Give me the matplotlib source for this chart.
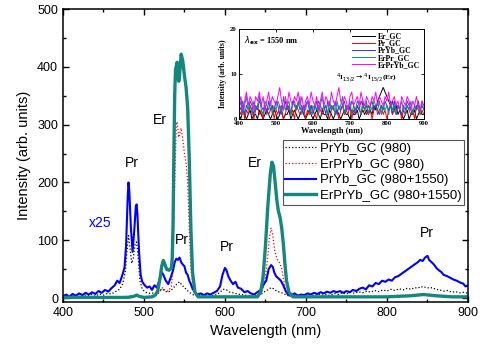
import numpy as np
import matplotlib.pyplot as plt
from matplotlib.ticker import MultipleLocator

# ----------------------------
# Main spectra
# ----------------------------
blue_wl = [400, 404, 408, 412, 416, 420, 424, 428, 432, 436, 440, 444, 448, 452, 456, 460,
           464, 467, 470, 473, 476, 478, 480, 481, 482, 484, 486, 488, 490, 491, 492, 494,
           496, 498, 501, 504, 507, 510, 513, 516, 519, 522, 524, 527, 530, 533, 536, 538,
           540, 542, 544, 546, 548, 550, 552, 554, 556, 558, 560, 563, 566, 570, 574, 578,
           582, 586, 590, 594, 597, 600, 602, 604, 607, 610, 613, 616, 620, 624, 628, 632,
           636, 640, 644, 648, 651, 654, 657, 659, 661, 663, 666, 669, 672, 675, 678, 682,
           686, 690, 694, 698, 702, 706, 710, 714, 718, 722, 726, 730, 734, 738, 742, 746,
           750, 754, 758, 762, 766, 770, 774, 778, 782, 786, 790, 794, 798, 802, 806, 810,
           814, 818, 822, 826, 830, 834, 838, 841, 844, 847, 850, 852, 855, 858, 861, 864,
           867, 870, 874, 878, 882, 886, 890, 894, 897, 900]
blue_I = [3, 6, 2, 7, 4, 8, 5, 9, 6, 10, 7, 12, 9, 14, 11, 17,
          22, 30, 26, 38, 52, 90, 175, 200, 185, 120, 80, 115, 158, 162, 145, 80,
          40, 28, 22, 18, 20, 14, 22, 18, 30, 45, 40, 30, 24, 35, 48, 62,
          68, 66, 70, 62, 58, 55, 44, 40, 30, 24, 16, 10, 6, 8, 5, 8,
          6, 9, 12, 20, 40, 52, 48, 38, 30, 24, 28, 18, 16, 10, 12, 8,
          6, 10, 14, 24, 30, 50, 57, 54, 44, 38, 34, 30, 22, 12, 6, 5,
          8, 4, 6, 5, 8, 6, 9, 7, 10, 8, 11, 9, 12, 10, 12, 9,
          12, 10, 14, 12, 16, 18, 15, 22, 20, 26, 24, 30, 28, 32, 30, 36,
          38, 42, 46, 50, 54, 58, 62, 66, 64, 70, 73, 66, 62, 58, 52, 48,
          45, 40, 38, 35, 32, 30, 27, 25, 20, 22]

black_wl = [400, 405, 410, 415, 420, 425, 430, 435, 440, 445, 450, 455, 460, 466, 470, 474,
            477, 479, 481, 483, 485, 487, 489, 491, 493, 495, 498, 502, 506, 510, 514, 518,
            522, 526, 530, 534, 538, 541, 544, 547, 550, 553, 556, 560, 565, 570, 575, 580,
            585, 590, 594, 598, 602, 606, 610, 615, 620, 625, 630, 635, 640, 645, 650, 654,
            657, 660, 664, 668, 672, 676, 680, 685, 690, 695, 700, 705, 710, 715, 720, 725,
            730, 735, 740, 745, 750, 755, 760, 765, 770, 775, 780, 785, 790, 795, 800, 805,
            810, 815, 820, 825, 830, 834, 838, 842, 845, 848, 852, 856, 860, 865, 870, 875,
            880, 885, 890, 895, 900]
black_I = [3, 5, 2, 5, 3, 6, 4, 6, 3, 7, 5, 8, 7, 12, 15, 25,
           45, 80, 108, 85, 60, 70, 92, 97, 70, 30, 15, 10, 8, 9, 7, 10,
           16, 12, 10, 14, 20, 25, 28, 22, 18, 14, 10, 6, 4, 5, 3, 5,
           4, 6, 10, 15, 14, 10, 9, 7, 6, 5, 4, 3, 5, 7, 12, 15,
           18, 16, 12, 10, 8, 5, 3, 4, 2, 5, 3, 6, 4, 7, 5, 6,
           4, 8, 6, 9, 7, 10, 8, 11, 9, 12, 10, 13, 11, 14, 12, 15,
           13, 16, 14, 17, 15, 18, 17, 20, 18, 19, 17, 18, 15, 14, 12, 13,
           10, 11, 9, 10, 8]

red_wl = [400, 450, 470, 480, 490, 500, 510, 516, 520, 523, 526, 530, 534, 536, 538, 540,
          541, 543, 545, 546, 548, 550, 552, 554, 556, 558, 561, 565, 570, 600, 640, 645,
          649, 652, 655, 657, 659, 661, 664, 667, 670, 672, 675, 678, 682, 700, 800, 830,
          845, 860, 880, 900]
red_I = [1, 1, 2, 3, 3, 2, 2, 5, 12, 18, 14, 12, 20, 60, 200, 300,
         305, 278, 290, 294, 275, 250, 234, 200, 120, 50, 15, 4, 2, 2, 3, 8,
         25, 60, 105, 121, 110, 85, 68, 62, 52, 35, 12, 4, 2, 1, 2, 3,
         5, 3, 2, 1]

teal_wl = [400, 480, 488, 491, 494, 500, 510, 514, 517, 520, 522, 524, 526, 528, 531, 534,
           535, 536, 537, 538, 539, 541, 543, 544, 546, 548, 550, 552, 554, 556, 558, 560,
           563, 567, 640, 644, 647, 650, 653, 656, 658, 660, 662, 664, 666, 668, 670, 672,
           674, 676, 679, 684, 800, 830, 845, 860, 880, 900]
teal_I = [1, 1, 3, 5, 3, 1, 2, 5, 12, 35, 55, 65, 58, 50, 48, 52,
          70, 130, 250, 350, 395, 408, 375, 385, 422, 410, 385, 365, 330, 240, 120, 45,
          10, 2, 2, 10, 35, 90, 160, 215, 235, 228, 200, 170, 150, 140, 122, 95,
          60, 30, 10, 2, 2, 4, 6, 4, 2, 2]

# ----------------------------
# Inset spectra (1550 nm excitation), 5 nm steps
# ----------------------------
inset_wl = np.arange(400, 901, 5)
er_gc = [1,0,2,1,0,1,2,0,1,1, 0,2,1,0,1,2,1,0,1,2, 1,0,1,2,0,1,1,2,0,1,
         2,1,0,1,2,1,0,1,2,1, 0,1,2,1,0,2,1,1,0,2, 1,0,1,2,1,0,1,2,1,1,
         0,2,1,1,2,0,1,2,1,2, 1,2,1,3,2,4,5,6,7,6, 5,4,3,4,2,3,1,2,1,0,
         1,2,0,1,1,2,0,1,2,1, 1]
pr_gc = [2,1,3,0,2,1,3,2,0,2, 3,1,2,0,3,2,1,2,3,0, 2,1,3,2,0,1,3,2,1,2,
         0,3,2,1,2,3,0,2,1,3, 2,1,0,3,2,1,2,3,1,0, 2,3,1,2,0,2,3,1,2,1,
         3,0,2,1,3,2,1,4,2,1, 3,2,0,2,3,1,2,3,1,2, 0,2,3,1,2,1,3,2,0,2,
         1,3,2,1,2,0,3,2,1,2, 1]
pryb_gc = [3,2,4,1,3,2,4,3,1,3, 2,4,3,2,3,1,4,2,3,2, 4,3,1,3,2,4,2,3,1,4,
           3,2,4,2,3,1,3,4,2,3, 1,3,2,4,3,2,3,1,4,2, 3,2,4,1,3,2,3,4,2,3,
           2,4,3,1,3,2,4,3,2,3, 1,3,4,2,3,2,1,3,2,4, 3,2,3,1,4,2,3,2,1,3,
           2,4,3,2,1,3,2,4,2,3, 2]
erpr_gc = [2,4,1,3,5,2,3,1,4,2, 3,5,2,1,4,3,2,4,1,3, 2,4,3,1,5,2,3,4,1,3,
           4,2,3,5,1,3,2,4,3,1, 3,2,4,1,3,5,2,3,1,4, 2,3,1,4,2,3,5,1,3,2,
           4,1,3,2,4,3,1,3,2,4, 1,3,2,4,3,2,4,1,3,2, 3,1,4,2,3,1,3,2,4,2,
           1,3,2,4,1,3,2,3,1,4, 2]
erpryb_gc = [3,5,2,4,6,3,5,4,2,5, 4,6,3,5,2,4,6,3,5,4, 3,5,7,4,2,5,3,6,4,3,
             5,4,6,3,5,2,4,5,3,6, 4,3,5,2,4,6,3,5,4,3, 6,4,3,5,7,4,3,5,4,2,
             5,6,3,4,5,3,6,4,3,5, 4,3,5,4,6,3,5,4,3,5, 4,6,3,4,5,3,4,2,5,4,
             3,5,4,2,4,3,5,3,2,4, 3]

TEAL = "#14877e"
plt.rcParams['font.family'] = ['Liberation Sans', 'DejaVu Sans']

fig = plt.figure(figsize=(4.8, 3.5), dpi=100)
ax = fig.add_axes([0.131, 0.137, 0.844, 0.837])

ax.plot(black_wl, black_I, color="black", ls=":", lw=0.9, label="PrYb_GC (980)")
ax.plot(red_wl, red_I, color="red", ls=":", lw=0.9, label="ErPrYb_GC (980)")
ax.plot(blue_wl, blue_I, color="#0000ff", lw=1.5, label="PrYb_GC (980+1550)")
ax.plot(teal_wl, teal_I, color=TEAL, lw=2.4, label="ErPrYb_GC (980+1550)")

ax.set_xlim(400, 900)
ax.set_ylim(-7, 500)
ax.xaxis.set_major_locator(MultipleLocator(100))
ax.xaxis.set_minor_locator(MultipleLocator(50))
ax.yaxis.set_major_locator(MultipleLocator(100))
ax.yaxis.set_minor_locator(MultipleLocator(50))
ax.tick_params(which="both", direction="in", top=True, right=True, width=1.0, labelsize=9)
ax.tick_params(which="major", length=4)
ax.tick_params(which="minor", length=2.5)
for s in ax.spines.values():
    s.set_linewidth(1.1)
ax.set_xlabel("Wavelength (nm)", fontsize=10.5)
ax.set_ylabel("Intensity (arb. units)", fontsize=10.5)

# peak labels
fs = 10
ax.text(485, 234, "Pr", fontsize=fs, ha="center", va="center")
ax.text(520, 308, "Er", fontsize=fs, ha="center", va="center")
ax.text(446, 130, "x25", fontsize=fs, color="#0000ff", ha="center", va="center")
ax.text(547, 100, "Pr", fontsize=fs, ha="center", va="center")
ax.text(602, 88, "Pr", fontsize=fs, ha="center", va="center")
ax.text(637, 234, "Er", fontsize=fs, ha="center", va="center")
ax.text(849, 112, "Pr", fontsize=fs, ha="center", va="center")

leg = ax.legend(loc="upper left", bbox_to_anchor=(0.543, 0.553), fontsize=9.5,
                fancybox=False, framealpha=1, edgecolor="#555555", handlelength=2.3,
                borderpad=0.2, labelspacing=0.26, handletextpad=0.3, borderaxespad=0)
leg.get_frame().set_linewidth(0.8)

# ----------------------------
# Inset
# ----------------------------
axi = fig.add_axes([0.498, 0.66, 0.385, 0.257])
serif = dict(family=["Liberation Serif", "DejaVu Serif"], weight="bold")
axi.plot(inset_wl, er_gc, color="black", lw=0.7, label="Er_GC")
axi.plot(inset_wl, pr_gc, color="red", lw=0.7, label="Pr_GC")
axi.plot(inset_wl, pryb_gc, color="#3333ff", lw=0.7, label="PrYb_GC")
axi.plot(inset_wl, erpr_gc, color=TEAL, lw=0.7, label="ErPr_GC")
axi.plot(inset_wl, erpryb_gc, color="#ff00ff", lw=0.7, label="ErPrYb_GC")
axi.set_xlim(400, 900)
axi.set_ylim(0, 20)
axi.xaxis.set_major_locator(MultipleLocator(100))
axi.yaxis.set_major_locator(MultipleLocator(10))
axi.tick_params(direction="in", top=True, right=True, length=2, width=0.6, pad=1.5, labelsize=4.8)
for lab in axi.get_xticklabels() + axi.get_yticklabels():
    lab.set_fontfamily(serif["family"])
    lab.set_fontweight("bold")
for s in axi.spines.values():
    s.set_linewidth(0.7)
axi.set_xlabel("Wavelength (nm)", fontsize=6, labelpad=1, **serif)
axi.set_ylabel("Intensity (arb. units)", fontsize=5.6, labelpad=2, **serif)
axi.text(413, 17.3, r"$\lambda_{\mathbf{ex}}$ = 1550 nm", fontsize=6, va="center", **serif)
axi.annotate(r"$^4$I$_{13/2}$$\rightarrow$$^4$I$_{15/2}$(Er)", xy=(792, 6.8), xytext=(662, 9.3),
             fontsize=5.4, ha="left", va="center",
             arrowprops=dict(arrowstyle="-", lw=0.5, color="#333333"), **serif)
li = axi.legend(loc="upper right", frameon=False, prop=dict(family=serif["family"], weight="bold", size=5.6),
                handlelength=3.0, labelspacing=-0.12, handletextpad=0.4, borderaxespad=0.25,
                borderpad=0.2)

fig.savefig("out.png", dpi=100)
